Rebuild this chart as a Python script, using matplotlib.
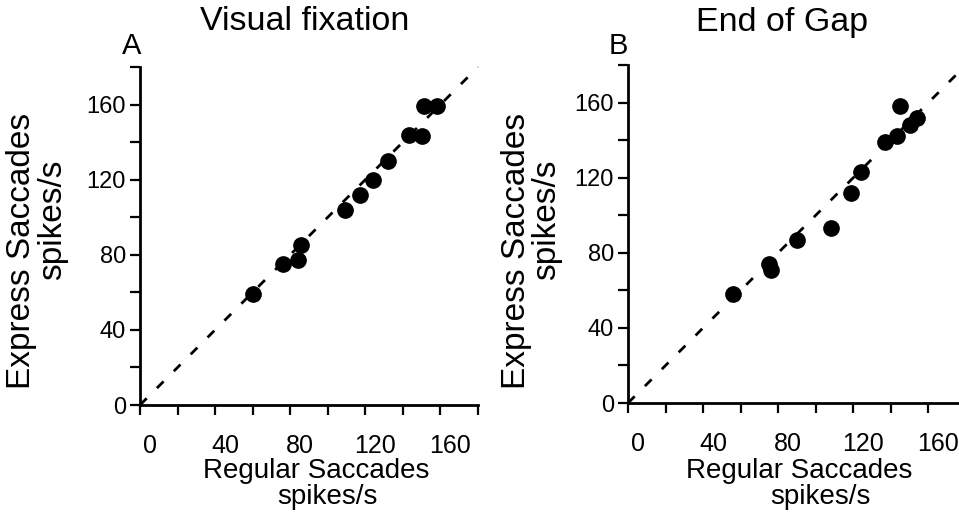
import matplotlib
matplotlib.use("Agg")
import matplotlib.pyplot as plt
from matplotlib import font_manager
from matplotlib.transforms import ScaledTranslation

plt.rcParams["font.family"] = ["Liberation Sans", "DejaVu Sans"]

# panel A: visual fixation
regular_a = [60, 76, 84, 86, 109, 117, 124, 132, 143, 150, 151, 158]
express_a = [59, 75, 77, 85, 104, 112, 120, 130, 144, 143, 159, 159]

# panel B: end of gap
regular_b = [56, 75, 76, 90, 108, 119, 124, 137, 143, 145, 150, 154]
express_b = [58, 74, 71, 87, 93, 112, 123, 139, 142, 158, 148, 152]

major_ticks = [0, 40, 80, 120, 160]
minor_ticks = [20, 60, 100, 140, 180]

W, H = 959, 512
fig = plt.figure(figsize=(W / 100, H / 100), dpi=100)

# narrow face for the titles if it is there
names = {f.name for f in font_manager.fontManager.ttflist}
if "Liberation Sans Narrow" in names:
    title_font, title_size = "Liberation Sans Narrow", 28.5
else:
    title_font, title_size = "Liberation Sans", 24.5


def do_panel(rect, xs, ys, letter, title, title_x, letter_x, ylab_x, spikes_x, xlab_x, xspikes_x):
    ax = fig.add_axes(rect)
    ax.plot([0, 180], [0, 180], color="black", linewidth=2, dashes=(3.4, 5.2), zorder=2, clip_on=False)
    ax.plot(xs, ys, "o", color="black", markersize=11, zorder=3, clip_on=False)

    ax.set_xlim(0, 180)
    ax.set_ylim(0, 180)
    for side in ["top", "right"]:
        ax.spines[side].set_visible(False)
    for side in ["left", "bottom"]:
        ax.spines[side].set_linewidth(2)

    ax.set_xticks(major_ticks)
    ax.set_xticks(minor_ticks, minor=True)
    ax.set_yticks(major_ticks)
    ax.set_yticks(minor_ticks, minor=True)
    ax.tick_params(which="both", direction="out", length=7, width=1.6, color="black")
    ax.tick_params(axis="x", labelsize=18, pad=14)
    ax.tick_params(axis="y", labelsize=17, pad=3)

    shift = ScaledTranslation(10 / 100, 0, fig.dpi_scale_trans)
    for tick in ax.xaxis.get_major_ticks():
        tick.label1.set_transform(tick.label1.get_transform() + shift)

    fig.text(title_x / W, 1 - 22 / H, title, fontsize=title_size, family=[title_font, "DejaVu Sans"],
             ha="center", va="center")
    fig.text(letter_x / W, 1 - 46 / H, letter, fontsize=21, ha="center", va="center")
    fig.text(ylab_x / W, 1 - 251 / H, "Express Saccades", fontsize=24, rotation=90, ha="center", va="center")
    fig.text(spikes_x / W, 1 - 220 / H, "spikes/s", fontsize=24, rotation=90, ha="center", va="center")
    fig.text(xlab_x / W, 1 - 471 / H, "Regular Saccades", fontsize=20, ha="center", va="center")
    fig.text(xspikes_x / W, 1 - 497 / H, "spikes/s", fontsize=20, ha="center", va="center")
    return ax


do_panel([140 / W, 107 / H, 338 / W, 338 / H], regular_a, express_a, "A",
         "Visual fixation", 305, 132, 22, 53, 316, 327)
do_panel([628 / W, 109 / H, 338 / W, 338 / H], regular_b, express_b, "B",
         "End of Gap", 782, 618, 517, 547, 799, 820)

fig.savefig("out.png", dpi=100)
